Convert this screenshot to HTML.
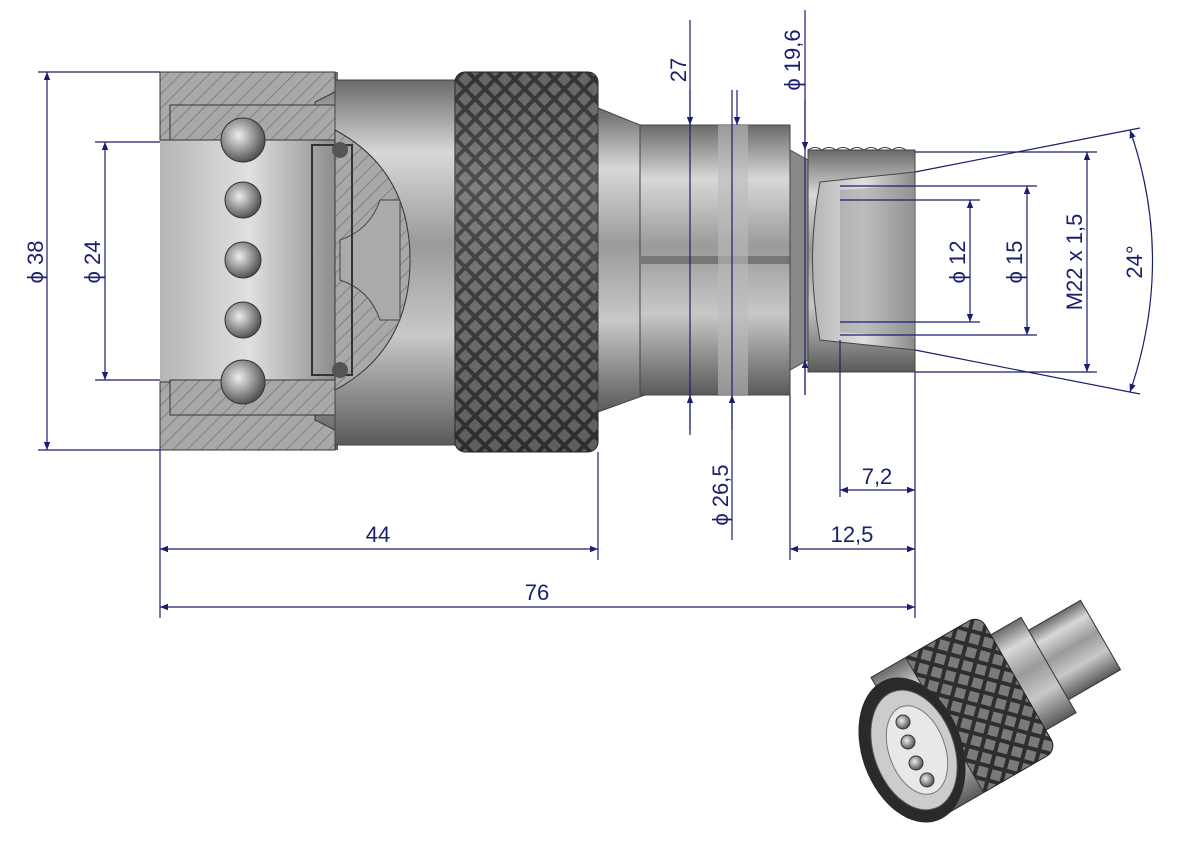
<!DOCTYPE html>
<html><head><meta charset="utf-8"><style>
html,body{margin:0;padding:0;background:#fff}
svg{display:block}
text{font-family:"Liberation Sans",sans-serif;font-size:22px;fill:#1a1f6e}
</style></head><body>
<svg width="1191" height="842" viewBox="0 0 1191 842" xmlns="http://www.w3.org/2000/svg">
<defs>
<linearGradient id="cyl" x1="0" y1="0" x2="0" y2="1">
<stop offset="0" stop-color="#6a6a6a"/><stop offset=".2" stop-color="#d8d8d8"/><stop offset=".45" stop-color="#9a9a9a"/><stop offset=".7" stop-color="#c8c8c8"/><stop offset="1" stop-color="#5a5a5a"/></linearGradient>
<linearGradient id="dark" x1="0" y1="0" x2="0" y2="1">
<stop offset="0" stop-color="#3a3a3a"/><stop offset=".3" stop-color="#8a8a8a"/><stop offset=".6" stop-color="#5a5a5a"/><stop offset="1" stop-color="#2a2a2a"/></linearGradient>
<linearGradient id="bore" x1="0" y1="0" x2="1" y2="0">
<stop offset="0" stop-color="#b5b5b5"/><stop offset=".5" stop-color="#e0e0e0"/><stop offset="1" stop-color="#8a8a8a"/></linearGradient>
<pattern id="hatch" width="10" height="10" patternUnits="userSpaceOnUse" patternTransform="rotate(45)">
<rect width="10" height="10" fill="#a8a8a8"/><line x1="0" y1="0" x2="0" y2="10" stroke="#6a6a6a" stroke-width="1.2"/></pattern>
<pattern id="knurl" width="14" height="14" patternUnits="userSpaceOnUse" patternTransform="rotate(45)">
<rect width="14" height="14" fill="#2e2e2e"/><rect x="2" y="2" width="10" height="10" fill="#7a7a7a"/></pattern>
<radialGradient id="ball" cx=".4" cy=".4" r=".6"><stop offset="0" stop-color="#eee"/><stop offset="1" stop-color="#555"/></radialGradient>
<marker id="a" viewBox="0 0 10 10" refX="10" refY="5" markerWidth="14" markerHeight="8" orient="auto-start-reverse" markerUnits="userSpaceOnUse"><path d="M0,1 L10,5 L0,9z" fill="#1a1f6e"/></marker>
</defs>

<rect x="160" y="72" width="178" height="378" fill="url(#cyl)"/>
<rect x="160" y="140" width="178" height="242" fill="url(#bore)"/>
<path d="M160 72h175v20l-20 10v38h-155z" fill="url(#hatch)" stroke="#333"/>
<path d="M160 450h175v-20l-20-10v-38h-155z" fill="url(#hatch)" stroke="#333"/>
<path d="M170 105h170v35h-170z" fill="url(#hatch)" stroke="#333"/>
<path d="M170 415h170v-35h-170z" fill="url(#hatch)" stroke="#333"/>
<rect x="335" y="80" width="122" height="365" fill="url(#cyl)" stroke="#444"/>
<path d="M335 130 Q410 170 410 260 Q410 350 335 390z" fill="url(#hatch)" stroke="#333"/>
<path d="M340 240 Q370 230 380 200 L400 200 L400 320 L380 320 Q370 290 340 280z" fill="#aaa" stroke="#444"/>
<rect x="312" y="145" width="40" height="230" fill="none" stroke="#333" stroke-width="2"/>
<g fill="url(#ball)" stroke="#333">
<circle cx="243" cy="140" r="22"/><circle cx="243" cy="200" r="18"/><circle cx="243" cy="260" r="18"/><circle cx="243" cy="320" r="18"/><circle cx="243" cy="382" r="22"/></g>
<circle cx="340" cy="150" r="8" fill="#555"/><circle cx="340" cy="370" r="8" fill="#555"/>
<rect x="455" y="72" width="143" height="380" rx="10" fill="url(#knurl)" stroke="#222"/>
<rect x="455" y="72" width="143" height="380" rx="10" fill="url(#dark)" opacity=".35"/>
<path d="M598 108 L640 125 L645 395 L598 412z" fill="url(#cyl)" stroke="#444"/>
<rect x="640" y="125" width="150" height="270" fill="url(#cyl)" stroke="#444"/>
<line x1="640" y1="260" x2="790" y2="260" stroke="#777" stroke-width="8"/>
<rect x="718" y="125" width="30" height="270" fill="#bbb" opacity=".6"/>
<path d="M790 150 L808 160 L808 360 L790 370z" fill="#888" stroke="#444"/>
<rect x="808" y="150" width="107" height="222" fill="url(#cyl)" stroke="#444"/>
<path d="M808 150 Q815 145 822 150 Q829 145 836 150 Q843 145 850 150 Q857 145 864 150 Q871 145 878 150 Q885 145 892 150 Q899 145 906 150" fill="none" stroke="#444"/>
<path d="M820 182 L915 172 L915 350 L820 340 Q805 260 820 182z" fill="url(#bore)" stroke="#444"/>
<path d="M840 190 L915 185 L915 338 L840 332z" fill="#9a9a9a" opacity=".5"/>

<g stroke="#1a1f6e" stroke-width="1.2" fill="none">
<line x1="38" y1="72" x2="160" y2="72"/><line x1="38" y1="450" x2="160" y2="450"/>
<line x1="47" y1="72" x2="47" y2="450" marker-start="url(#a)" marker-end="url(#a)"/>
<line x1="95" y1="142" x2="160" y2="142"/><line x1="95" y1="380" x2="160" y2="380"/>
<line x1="105" y1="142" x2="105" y2="380" marker-start="url(#a)" marker-end="url(#a)"/>
<line x1="160" y1="450" x2="160" y2="618"/><line x1="598" y1="452" x2="598" y2="560"/>
<line x1="160" y1="549" x2="598" y2="549" marker-start="url(#a)" marker-end="url(#a)"/>
<line x1="160" y1="607" x2="915" y2="607" marker-start="url(#a)" marker-end="url(#a)"/>
<line x1="915" y1="372" x2="915" y2="618"/><line x1="790" y1="395" x2="790" y2="560"/><line x1="840" y1="340" x2="840" y2="497"/>
<line x1="790" y1="549" x2="915" y2="549" marker-start="url(#a)" marker-end="url(#a)"/>
<line x1="840" y1="490" x2="915" y2="490" marker-start="url(#a)" marker-end="url(#a)"/>
<line x1="690" y1="20" x2="690" y2="435"/>
<line x1="690" y1="90" x2="690" y2="125" marker-end="url(#a)"/><line x1="690" y1="430" x2="690" y2="395" marker-end="url(#a)"/>
<line x1="732" y1="90" x2="732" y2="540"/>
<line x1="737" y1="90" x2="737" y2="125" marker-end="url(#a)"/><line x1="732" y1="430" x2="732" y2="395" marker-end="url(#a)"/>
<line x1="805" y1="10" x2="805" y2="395"/>
<line x1="805" y1="100" x2="805" y2="150" marker-end="url(#a)"/><line x1="805" y1="395" x2="805" y2="360" marker-end="url(#a)"/>
<line x1="840" y1="200" x2="980" y2="200"/><line x1="840" y1="322" x2="980" y2="322"/>
<line x1="970" y1="200" x2="970" y2="322" marker-start="url(#a)" marker-end="url(#a)"/>
<line x1="840" y1="186" x2="1037" y2="186"/><line x1="840" y1="335" x2="1037" y2="335"/>
<line x1="1027" y1="186" x2="1027" y2="335" marker-start="url(#a)" marker-end="url(#a)"/>
<line x1="915" y1="152" x2="1097" y2="152"/><line x1="915" y1="372" x2="1097" y2="372"/>
<line x1="1087" y1="152" x2="1087" y2="372" marker-start="url(#a)" marker-end="url(#a)"/>
<line x1="915" y1="172" x2="1140" y2="128"/><line x1="915" y1="350" x2="1140" y2="394"/>
<path d="M1130 130 Q1175 260 1130 392" marker-start="url(#a)" marker-end="url(#a)"/>
</g>
<text transform="translate(43 262) rotate(-90)" text-anchor="middle">ϕ 38</text>
<text transform="translate(100 262) rotate(-90)" text-anchor="middle">ϕ 24</text>
<text x="378" y="542" text-anchor="middle">44</text>
<text x="537" y="600" text-anchor="middle">76</text>
<text x="852" y="542" text-anchor="middle">12,5</text>
<text x="877" y="484" text-anchor="middle">7,2</text>
<text transform="translate(686 70) rotate(-90)" text-anchor="middle">27</text>
<text transform="translate(728 495) rotate(-90)" text-anchor="middle">ϕ 26,5</text>
<text transform="translate(800 60) rotate(-90)" text-anchor="middle">ϕ 19,6</text>
<text transform="translate(965 262) rotate(-90)" text-anchor="middle">ϕ 12</text>
<text transform="translate(1022 262) rotate(-90)" text-anchor="middle">ϕ 15</text>
<text transform="translate(1082 262) rotate(-90)" text-anchor="middle">M22 x 1,5</text>
<text transform="translate(1142 262) rotate(-90)" text-anchor="middle">24°</text>

<g transform="translate(910 745) rotate(-30)">
<rect x="150" y="-40" width="70" height="80" fill="url(#cyl)" stroke="#333"/>
<rect x="115" y="-55" width="45" height="110" fill="url(#cyl)" stroke="#333"/>
<rect x="30" y="-78" width="95" height="156" rx="12" fill="url(#knurl)" stroke="#222"/>
<rect x="0" y="-78" width="40" height="156" fill="url(#cyl)" stroke="#333"/>
</g>
<ellipse cx="912" cy="750" rx="50" ry="75" transform="rotate(-20 912 750)" fill="#2a2a2a"/>
<ellipse cx="914" cy="750" rx="40" ry="62" transform="rotate(-20 914 750)" fill="#ccc" stroke="#555"/>
<ellipse cx="917" cy="750" rx="28" ry="46" transform="rotate(-20 917 750)" fill="#e8e8e8" stroke="#777"/>
<g fill="url(#ball)" stroke="#333"><circle cx="903" cy="722" r="7"/><circle cx="908" cy="742" r="7"/><circle cx="916" cy="763" r="7"/><circle cx="927" cy="780" r="7"/></g>
</svg>
</body></html>
